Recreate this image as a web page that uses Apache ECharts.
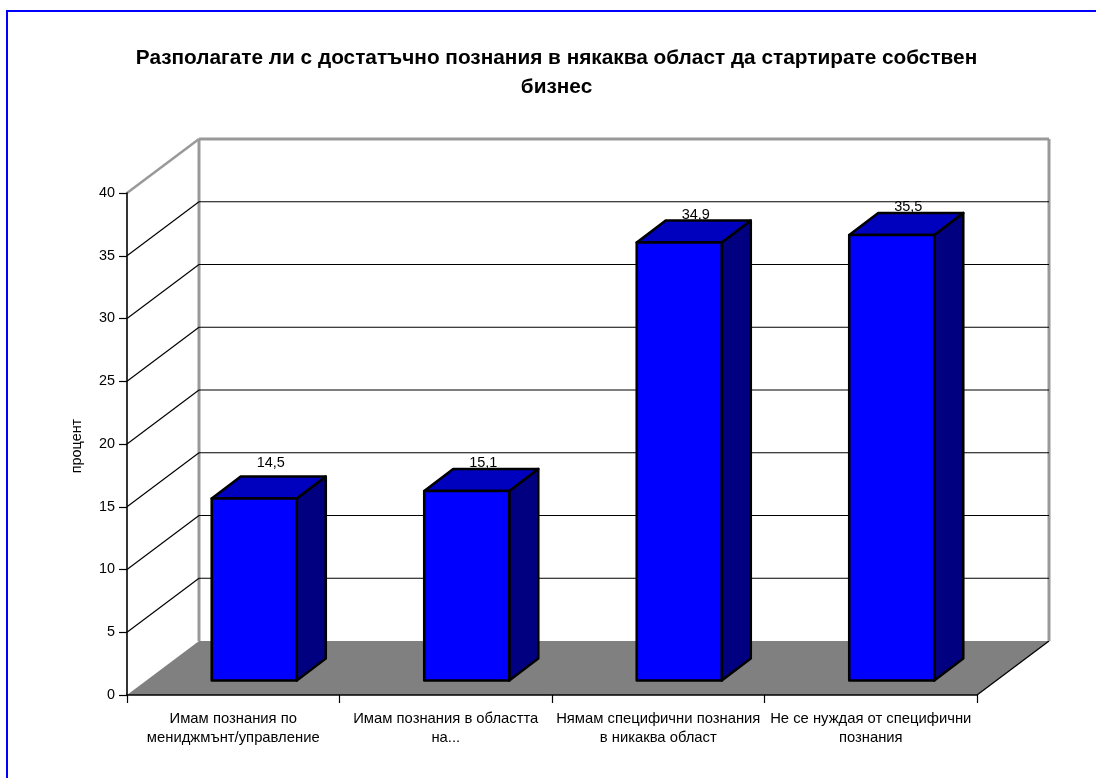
<!DOCTYPE html>
<html><head><meta charset="utf-8">
<style>html,body{margin:0;padding:0;background:#fff}#c{width:1096px;height:778px}</style>
<script src="https://cdn.jsdelivr.net/npm/echarts@6/dist/echarts.min.js"></script>
</head><body><div id="c"></div>
<script>
const titleText = 'Разполагате ли с достатъчно познания в някаква област да стартирате собствен\nбизнес';
const categories = ['Имам познания по\nмениджмънт/управление','Имам познания в областта\nна...','Нямам специфични познания\nв никаква област','Не се нуждая от специфични\nпознания'];
const values = [14.5, 15.1, 34.9, 35.5];
const valueLabels = ['14,5','15,1','34,9','35,5'];
const gridValues = [5,10,15,20,25,30,35];
const yName = 'процент';

const FONT = '"Liberation Sans", Arial, sans-serif';
const DX = 72, DY = -54;            // full depth of the 3D box
const BAR_DX = 21, BAR_DY = -14.5;  // bar's front face offset from the front plane
const BDX = 29, BDY = -22;          // bar's own depth

function wall(params, api) {
  const cs = params.coordSys;
  const x0 = cs.x, x1 = cs.x + cs.width, yb = cs.y + cs.height, yt = cs.y;
  const ln = (a,b,c,d,stroke,w) => ({type:'line',shape:{x1:a,y1:b,x2:c,y2:d},style:{stroke:stroke,lineWidth:w}});
  return {type:'group',children:[
    {type:'polygon',shape:{points:[[x0,yb],[x1,yb],[x1+DX,yb+DY],[x0+DX,yb+DY]]},style:{fill:'#808080'}},
    ln(x1,yb,x1+DX,yb+DY,'#000',1.3),
    ln(x0+DX,yt+DY,x0+DX,yb+DY,'#999',3),
    ln(x1+DX,yt+DY,x1+DX,yb+DY,'#999',3),
    ln(x0+DX,yt+DY,x1+DX,yt+DY,'#999',3),
    ln(x0,yt,x0+DX,yt+DY,'#999',2.5)
  ]};
}
function gridLine(params, api) {
  const cs = params.coordSys;
  const p = api.coord([0, api.value(0)]);
  const y = p[1], x0 = cs.x, x1 = cs.x + cs.width;
  const st = {stroke:'#000',lineWidth:1.2};
  return {type:'group',children:[
    {type:'line',shape:{x1:x0,y1:y,x2:x0+DX,y2:y+DY},style:st},
    {type:'line',shape:{x1:x0+DX,y1:y+DY,x2:x1+DX,y2:y+DY},style:st}
  ]};
}
function bar3d(params, api) {
  const i = api.value(0), v = api.value(1);
  const top = api.coord([i, v]), base = api.coord([i, 0]);
  const w = api.size([1,0])[0] * 0.4;
  const l = top[0] - w/2 + BAR_DX, r = l + w;
  const t = top[1] + BAR_DY, b = base[1] + BAR_DY;
  const st = (f) => ({fill:f,stroke:'#000',lineWidth:2.6,lineJoin:'round'});
  const lift = params.dataIndex === 0 ? 14 : 6;
  return {type:'group',children:[
    {type:'polygon',shape:{points:[[r,t],[r+BDX,t+BDY],[r+BDX,b+BDY],[r,b]]},style:st('#000080')},
    {type:'polygon',shape:{points:[[l,t],[l+BDX,t+BDY],[r+BDX,t+BDY],[r,t]]},style:st('#0000bf')},
    {type:'rect',shape:{x:l,y:t,width:w,height:b-t},style:st('#0000ff')},
    {type:'text',z2:10,style:{text:valueLabels[params.dataIndex],x:(l+r+BDX)/2+2,y:t+BDY-lift,align:'center',verticalAlign:'middle',font:'14.5px '+FONT,fill:'#000'}}
  ]};
}
const chart = echarts.init(document.getElementById('c'), null, {renderer:'canvas'});
chart.setOption({
  animation:false,
  backgroundColor:'#fff',
  graphic:[{type:'rect',silent:true,z:-1,shape:{x:7,y:11,width:1200,height:900},style:{fill:'none',stroke:'#0000ff',lineWidth:2}}],
  title:{text:titleText,left:551.5,top:39,textAlign:'center',textStyle:{fontFamily:FONT,fontSize:20.8,fontWeight:'bold',color:'#000',lineHeight:29}},
  grid:{left:127,right:119,top:193,bottom:83,containLabel:false},
  xAxis:{type:'category',data:categories,boundaryGap:true,z:5,
    axisLine:{lineStyle:{color:'#000',width:1.6}},
    axisTick:{show:true,alignWithLabel:false,length:8,lineStyle:{color:'#000',width:1.2}},
    axisLabel:{fontFamily:FONT,fontSize:14.8,color:'#000',lineHeight:19,margin:14,interval:0}},
  yAxis:{type:'value',min:0,max:40,interval:5,z:5,
    name:yName,nameLocation:'middle',nameGap:43,nameRotate:90,nameTextStyle:{fontFamily:FONT,fontSize:14.4,color:'#000',padding:[0,4,0,0]},
    axisLine:{show:true,lineStyle:{color:'#000',width:1.6}},
    axisTick:{show:true,length:8,lineStyle:{color:'#000',width:1.2}},
    axisLabel:{fontFamily:FONT,fontSize:14.4,color:'#000',margin:12},
    splitLine:{show:false}},
  series:[
    {type:'custom',z:1,renderItem:wall,data:[[0]],silent:true},
    {type:'custom',z:2,renderItem:gridLine,data:gridValues.map(v=>[v]),encode:{y:0},silent:true},
    {type:'custom',z:3,renderItem:bar3d,data:values.map((v,i)=>[i,v]),encode:{x:0,y:1},clip:false,silent:true}
  ]
});
</script></body></html>
